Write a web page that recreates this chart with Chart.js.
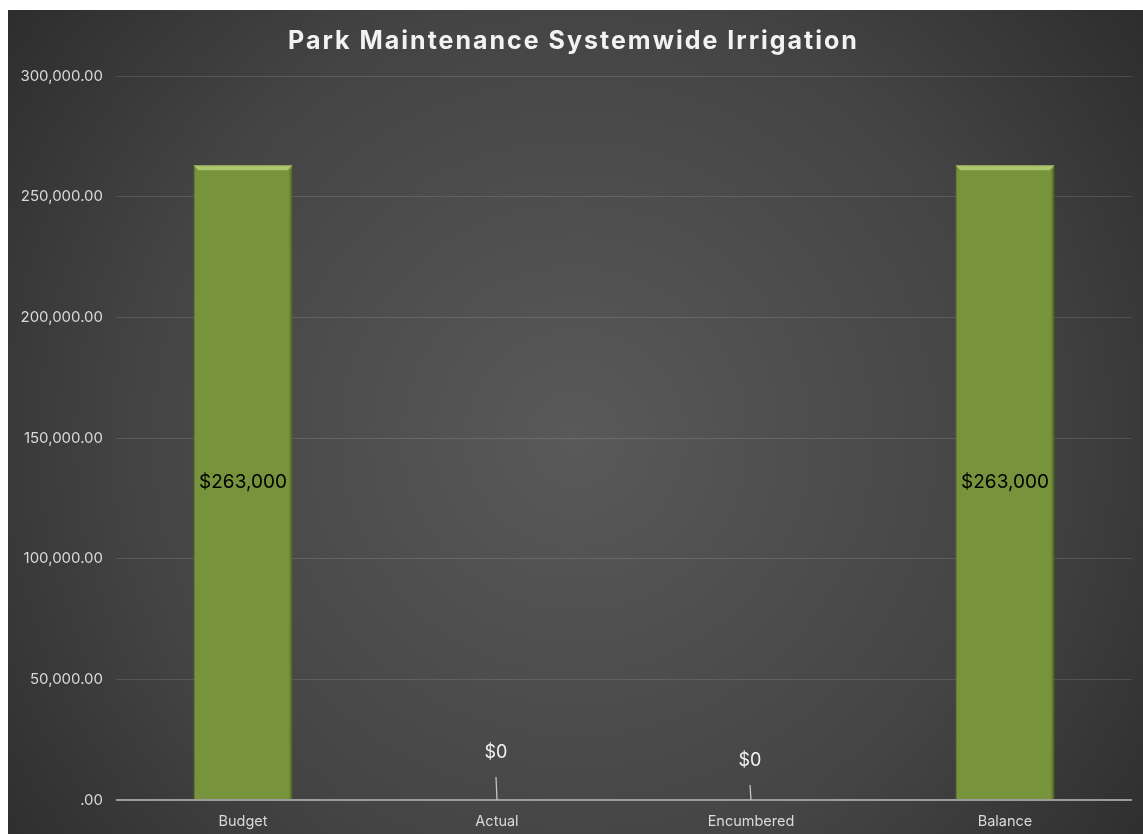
<!DOCTYPE html>
<html>
<head>
<meta charset="utf-8">
<script src="https://cdn.jsdelivr.net/npm/chart.js@4"></script>
<style>
	html, body { margin: 0; padding: 0; background: #fff; }
	#wrap { position: absolute; left: 8px; top: 10px; width: 1135px; height: 824px; }
</style>
</head>
<body>
<div id="wrap"><canvas id="chart"></canvas></div>
<script>
'use strict';

var chartTitle = 'Park Maintenance Systemwide Irrigation';
var categories = ['Budget', 'Actual', 'Encumbered', 'Balance'];
var amounts = [263000, 0, 0, 263000];
var yTicks = [0, 50000, 100000, 150000, 200000, 250000, 300000];

(function (window) {

	var money = new Intl.NumberFormat('en-US', {style: 'currency', currency: 'USD', maximumFractionDigits: 0});
	var twoDec = new Intl.NumberFormat('en-US', {minimumFractionDigits: 2, maximumFractionDigits: 2});
	var fontFamily = 'Inter, "Noto Sans", sans-serif';

	// dark radial backdrop + spaced-out title
	var backdrop = {
		id: 'backdrop',
		beforeDraw: function (chart) {
			var ctx = chart.ctx;
			var w = chart.width, h = chart.height;
			var g = ctx.createRadialGradient(w * 0.5, h * 0.52, 0, w * 0.5, h * 0.52, w * 0.7);
			g.addColorStop(0, '#595959');
			g.addColorStop(0.55, '#444444');
			g.addColorStop(1, '#262626');
			ctx.save();
			ctx.fillStyle = g;
			ctx.fillRect(0, 0, w, h);
			ctx.fillStyle = '#f2f2f2';
			ctx.font = 'bold 25px ' + fontFamily;
			if ('letterSpacing' in ctx) ctx.letterSpacing = '2px';
			ctx.textAlign = 'center';
			ctx.textBaseline = 'middle';
			ctx.fillText(chartTitle, w / 2 - 2, 31);
			ctx.restore();
		}
	};

	// bevel highlight on top of the bars and value labels
	var barExtras = {
		id: 'barExtras',
		afterDatasetsDraw: function (chart) {
			var ctx = chart.ctx;
			var meta = chart.getDatasetMeta(0);
			var zeroY = chart.scales.y.getPixelForValue(0);
			ctx.save();
			meta.data.forEach(function (bar, i) {
				var v = amounts[i];
				var half = bar.width / 2;
				var left = bar.x - half, right = bar.x + half;
				if (v > 0) {
					ctx.fillStyle = 'rgba(195, 222, 130, 0.7)';
					ctx.beginPath();
					ctx.moveTo(left, bar.y);
					ctx.lineTo(right, bar.y);
					ctx.lineTo(right - 5, bar.y + 5);
					ctx.lineTo(left + 5, bar.y + 5);
					ctx.closePath();
					ctx.fill();
					ctx.fillStyle = 'rgba(60, 80, 20, 0.35)';
					ctx.fillRect(right - 3, bar.y + 4, 3, bar.base - bar.y - 4);
					ctx.fillStyle = '#000000';
					ctx.font = '19px ' + fontFamily;
					ctx.textAlign = 'center';
					ctx.textBaseline = 'middle';
					ctx.fillText(money.format(v), bar.x, (bar.y + bar.base) / 2);
				} else {
					var lift = i === 1 ? 47 : 39;
					ctx.strokeStyle = '#c4c4c4';
					ctx.lineWidth = 1.3;
					ctx.beginPath();
					ctx.moveTo(bar.x, zeroY);
					ctx.lineTo(bar.x - 1, zeroY - lift + 24);
					ctx.stroke();
					ctx.fillStyle = '#f2f2f2';
					ctx.font = '18px ' + fontFamily;
					ctx.textAlign = 'center';
					ctx.textBaseline = 'middle';
					ctx.fillText(money.format(v), bar.x - 1, zeroY - lift);
				}
			});
			ctx.restore();
		}
	};

	var data = {
		labels: categories,
		datasets: [
			{
				label: 'Amount',
				data: amounts,
				backgroundColor: '#77933c',
				borderColor: '#5b7428',
				borderWidth: 1,
				barPercentage: 0.78,
				categoryPercentage: 0.5
			}
		]
	};

	var config = {
		type: 'bar',
		data: data,
		options: {
			responsive: true,
			maintainAspectRatio: false,
			animation: false,
			layout: {padding: {left: 0, right: 11, top: 66, bottom: 0}},
			plugins: {
				legend: {display: false},
				tooltip: {enabled: false},
				title: {display: false}
			},
			scales: {
				x: {
					grid: {display: false, drawTicks: false},
					border: {display: false},
					ticks: {
						color: '#d9d9d9',
						font: {family: fontFamily, size: 14.5},
						padding: 13
					},
					afterFit: function (scale) { scale.height = 34; }
				},
				y: {
					min: 0,
					max: 300000,
					afterBuildTicks: function (scale) {
						scale.ticks = yTicks.map(function (v) { return {value: v}; });
					},
					grid: {
						drawTicks: false,
						color: function (c) { return c.tick && c.tick.value === 0 ? '#9c9c9c' : 'rgba(255,255,255,0.12)'; },
						lineWidth: function (c) { return c.tick && c.tick.value === 0 ? 2 : 1; }
					},
					border: {display: false},
					ticks: {
						color: '#d9d9d9',
						font: {family: fontFamily, size: 15},
						padding: 13,
						callback: function (v) { return v === 0 ? '.00' : twoDec.format(v); }
					},
					afterFit: function (scale) { scale.width = 108; }
				}
			}
		},
		plugins: [backdrop, barExtras]
	};

	var irrigationChart = new Chart(document.getElementById('chart'), config);
})(window);
</script>
</body>
</html>
